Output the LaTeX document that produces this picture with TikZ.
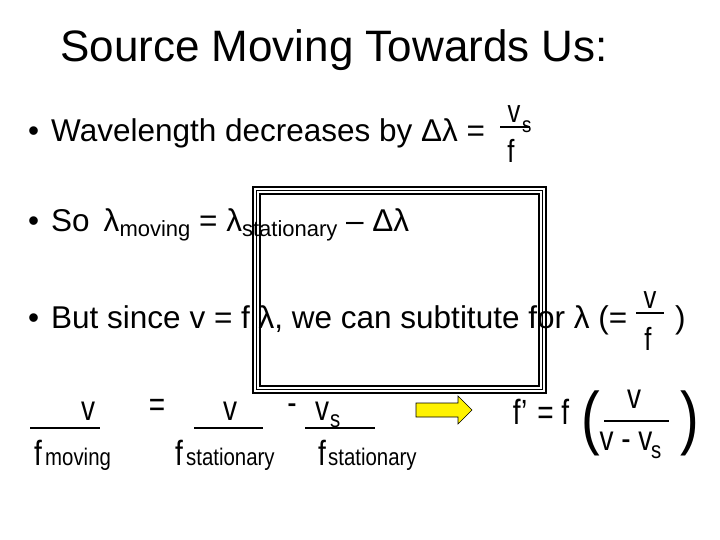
\documentclass[tikz,border=0pt]{standalone}
\usepackage{fontspec}
\setmainfont{Liberation Sans}
\begin{document}
\begin{tikzpicture}[x=1pt,y=-1pt,
  t/.style={inner sep=0pt,anchor=base west,font=\fontsize{31.5}{36}\selectfont},
  n/.style={inner sep=0pt,anchor=base,font=\fontsize{35}{40}\selectfont\addfontfeature{FakeStretch=0.8}},
  s/.style={inner sep=0pt,anchor=base west,font=\fontsize{24}{26}\selectfont\addfontfeature{FakeStretch=0.85}},
  bar/.style={line width=2.5pt}]
\useasboundingbox (0,0) rectangle (720,540);
\node[t,font=\fontsize{44}{48}\selectfont] (title) at (60,62) {Source Moving Towards Us:};
% row 1
\node[t] (r1) at (28,142) {•\hspace{12pt}Wavelength decreases by Δλ =};
\node[n,font=\fontsize{32}{36}\selectfont\addfontfeature{FakeStretch=0.8}] (v1) at (514,123) {v};
\node[s,font=\fontsize{22}{24}\selectfont\addfontfeature{FakeStretch=0.85}] (s1) at (522,133) {s};
\coordinate (l1a) at (500,127); \coordinate (l1b) at (530,127);
\draw[line width=1.5pt] (l1a) -- (l1b);
\node[n,font=\fontsize{32}{36}\selectfont\addfontfeature{FakeStretch=0.8}] (f1) at (511,163) {f};
% row 2
\node[t] (r2) at (28,232) {•\hspace{12pt}So\hspace{14pt}λ\raisebox{-5pt}{\fontsize{22}{24}\selectfont moving} = λ\raisebox{-5pt}{\fontsize{22}{24}\selectfont stationary} – Δλ};
% row 3
\node[t] (r3) at (28,328) {•\hspace{12pt}But since v = f λ, we can subtitute for λ (=};
\node[n,font=\fontsize{32}{36}\selectfont\addfontfeature{FakeStretch=0.8}] (v3) at (650,308) {v};
\coordinate (l3a) at (636,313); \coordinate (l3b) at (664,313);
\draw[line width=1.5pt] (l3a) -- (l3b);
\node[n,font=\fontsize{32}{36}\selectfont\addfontfeature{FakeStretch=0.8}] (f3) at (648,350) {f};
\node[t] (p3) at (675,328) {)};
% row 4
\node[n] (va) at (88,420) {v};
\coordinate (a1) at (30,428); \coordinate (a2) at (100,428);
\draw[bar] (a1) -- (a2);
\node[n] (fa) at (38,465) {f};
\node[s] (fam) at (45,465) {moving};
\node[n] (eq) at (157,416) {=};
\node[n] (vb) at (230,420) {v};
\coordinate (b1) at (194,428); \coordinate (b2) at (263,428);
\draw[bar] (b1) -- (b2);
\node[n] (fb) at (179,465) {f};
\node[s] (fbm) at (186,465) {stationary};
\node[n] (mi) at (292,414) {-};
\node[n] (vc) at (322,420) {v};
\node[s] (vcs) at (330,427) {s};
\coordinate (c1) at (305,428); \coordinate (c2) at (375,428);
\draw[bar] (c1) -- (c2);
\node[n] (fc) at (322,465) {f};
\node[s] (fcm) at (328,465) {stationary};
\draw[fill=yellow,line width=0.6pt] (416,403) -- (458,403) -- (458,396) -- (472,410) -- (458,424) -- (458,417) -- (416,417) -- cycle;
\node[n] (fp) at (541,424) {f’\hspace{10pt}= f};
\node[n,font=\fontsize{70}{74}\selectfont\addfontfeature{FakeStretch=0.8}] (lp) at (591,441) {(};
\node[n,font=\fontsize{70}{74}\selectfont\addfontfeature{FakeStretch=0.8}] (rp) at (690,441) {)};
\node[n] (vd) at (634,408) {v};
\coordinate (d1) at (604,421); \coordinate (d2) at (669,421);
\draw[bar] (d1) -- (d2);
\node[n] (vdd) at (626,450) {v - v};
\node[s] (vds) at (651,458) {s};
% box
\draw[line width=1.4pt] (253,187) rectangle (546,393);
\draw[line width=1.4pt] (256.5,190.5) rectangle (542.5,389.5);
\draw[line width=1.4pt] (260,194) rectangle (539,386);
\end{tikzpicture}
\end{document}
